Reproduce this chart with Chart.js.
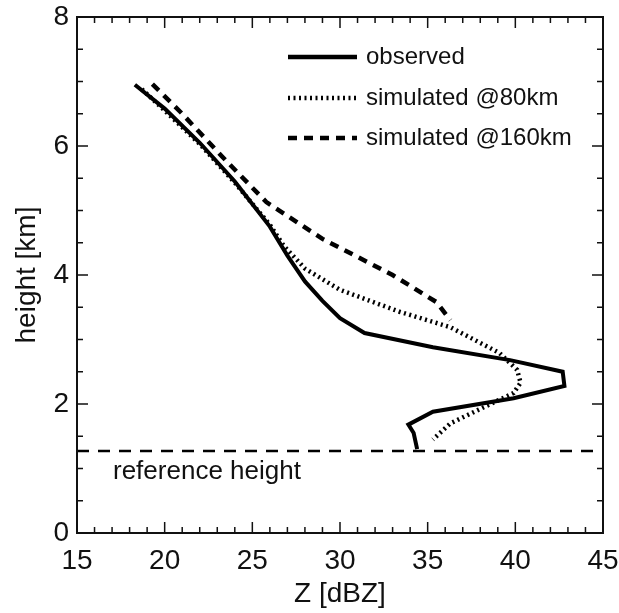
<!DOCTYPE html>
<html>
<head>
<meta charset="utf-8">
<script src="https://cdn.jsdelivr.net/npm/chart.js@4"></script>
<style>
  html, body { margin: 0; padding: 0; background: #fff; }
  #wrap { width: 619px; height: 613px; }
</style>
</head>
<body>
<div id="wrap"><canvas id="profil" width="619" height="613"></canvas></div>
<script>
// Profils de réflectivité (Z en dBZ, hauteur en km)
const observedZ = [18.3, 20, 22, 24, 26, 27, 28, 29, 30, 31.4, 35.3, 39.7, 42.7, 42.8, 39.9, 35.3, 33.9, 34.2, 34.4];
const observedH = [6.95, 6.58, 6.05, 5.45, 4.75, 4.3, 3.9, 3.6, 3.33, 3.1, 2.88, 2.68, 2.5, 2.28, 2.09, 1.88, 1.68, 1.55, 1.3];

const sim80Z = [18.7, 20, 22, 24, 26, 26.8, 28, 30, 33.4, 36.3, 39.1, 40.1, 40.3, 39.9, 38.2, 36.3, 35.3];
const sim80H = [6.88, 6.55, 6.03, 5.43, 4.78, 4.45, 4.1, 3.77, 3.43, 3.19, 2.79, 2.53, 2.33, 2.17, 1.95, 1.7, 1.45];

const sim160Z = [19.3, 21, 23.3, 25.8, 29, 33, 35.5, 36.3];
const sim160H = [6.96, 6.5, 5.83, 5.13, 4.56, 4.0, 3.58, 3.3];

const referenceHeight = 1.27;
const referenceZ = [15, 45];

const xTicks = [15, 20, 25, 30, 35, 40, 45];
const yTicks = [0, 2, 4, 6, 8];

const legendLabels = ["observed", "simulated @80km", "simulated @160km"];

const toPoints = (xs, ys) => xs.map((x, i) => ({ x, y: ys[i] }));

const fontFamily = "'Liberation Sans', Arial, sans-serif";

// Cadre, graduations intérieures, légende et texte de référence
const framePlugin = {
  id: "frame",
  afterDraw(chart) {
    const { ctx, chartArea: a, scales } = chart;
    const xs = scales.x, ys = scales.y;
    ctx.save();
    ctx.strokeStyle = "#111";
    ctx.lineWidth = 2;
    ctx.strokeRect(a.left, a.top, a.right - a.left, a.bottom - a.top);

    ctx.lineWidth = 1.5;
    for (let v = 15; v <= 45; v += 1) {
      const px = xs.getPixelForValue(v);
      const len = v % 5 === 0 ? 11 : 6;
      ctx.beginPath();
      ctx.moveTo(px, a.bottom); ctx.lineTo(px, a.bottom - len);
      ctx.moveTo(px, a.top); ctx.lineTo(px, a.top + len);
      ctx.stroke();
    }
    for (let v = 0; v <= 8; v += 0.5) {
      const py = ys.getPixelForValue(v);
      const len = v % 2 === 0 ? 11 : 6;
      ctx.beginPath();
      ctx.moveTo(a.left, py); ctx.lineTo(a.left + len, py);
      ctx.moveTo(a.right, py); ctx.lineTo(a.right - len, py);
      ctx.stroke();
    }

    // Légende
    const styles = [
      { width: 4.5, dash: [] },
      { width: 4.5, dash: [2, 3.5] },
      { width: 4.5, dash: [9, 7] },
    ];
    const rowsY = [57, 98, 138];
    ctx.strokeStyle = "#000";
    ctx.fillStyle = "#111";
    ctx.font = "24px " + fontFamily;
    ctx.textBaseline = "middle";
    legendLabels.forEach((label, i) => {
      ctx.lineWidth = styles[i].width;
      ctx.setLineDash(styles[i].dash);
      ctx.beginPath();
      ctx.moveTo(288, rowsY[i]);
      ctx.lineTo(357, rowsY[i]);
      ctx.stroke();
      ctx.setLineDash([]);
      ctx.fillText(label, 366, rowsY[i]);
    });

    ctx.font = "26px " + fontFamily;
    ctx.fillText("reference height", 113, ys.getPixelForValue(referenceHeight) + 21);
    ctx.restore();
  },
};

new Chart(document.getElementById("profil"), {
  type: "scatter",
  data: {
    datasets: [
      {
        label: "observed",
        data: toPoints(observedZ, observedH),
        showLine: true,
        borderColor: "#000",
        borderWidth: 4,
        pointRadius: 0,
      },
      {
        label: "simulated @80km",
        data: toPoints(sim80Z, sim80H),
        showLine: true,
        borderColor: "#000",
        borderWidth: 4.5,
        borderDash: [2, 3.5],
        pointRadius: 0,
      },
      {
        label: "simulated @160km",
        data: toPoints(sim160Z, sim160H),
        showLine: true,
        borderColor: "#000",
        borderWidth: 4.5,
        borderDash: [9, 7],
        pointRadius: 0,
      },
      {
        label: "reference height",
        data: referenceZ.map((x) => ({ x, y: referenceHeight })),
        showLine: true,
        borderColor: "#000",
        borderWidth: 2.5,
        borderDash: [12, 9],
        pointRadius: 0,
      },
    ],
  },
  options: {
    responsive: false,
    animation: false,
    layout: { padding: { top: 17, right: 16, left: 10, bottom: 0 } },
    plugins: { legend: { display: false }, tooltip: { enabled: false } },
    scales: {
      x: {
        type: "linear",
        min: 15,
        max: 45,
        afterBuildTicks: (scale) => { scale.ticks = xTicks.map((value) => ({ value })); },
        afterFit: (scale) => { scale.height = 80; scale.paddingLeft = 0; scale.paddingRight = 0; },
        grid: { display: false, drawTicks: false },
        border: { display: false },
        ticks: { color: "#111", font: { size: 28, family: fontFamily }, padding: 11 },
        title: { display: true, text: "Z [dBZ]", color: "#111", font: { size: 28, family: fontFamily }, padding: { top: 0, bottom: 2 } },
      },
      y: {
        type: "linear",
        min: 0,
        max: 8,
        afterBuildTicks: (scale) => { scale.ticks = yTicks.map((value) => ({ value })); },
        afterFit: (scale) => { scale.width = 67; scale.paddingTop = 0; scale.paddingBottom = 0; },
        grid: { display: false, drawTicks: false },
        border: { display: false },
        ticks: { color: "#111", font: { size: 28, family: fontFamily }, padding: 8 },
        title: { display: true, text: "height [km]", color: "#111", font: { size: 28, family: fontFamily }, padding: { top: 0, bottom: 4 } },
      },
    },
  },
  plugins: [framePlugin],
});
</script>
</body>
</html>
